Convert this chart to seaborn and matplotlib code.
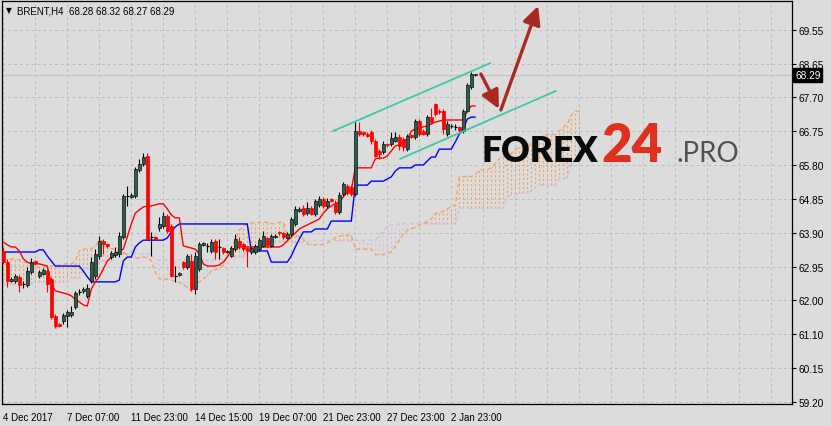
import numpy as np
import matplotlib
matplotlib.use("Agg")
import matplotlib.pyplot as plt
import seaborn as sns
from matplotlib.transforms import blended_transform_factory

# ---------------- data ----------------
open_ = [63.40, 63.09, 62.56, 62.56, 62.68, 62.48, 62.45, 62.81, 63.12, 62.70,
         62.76, 62.84, 62.62, 61.59, 61.37, 61.45, 61.59, 61.62, 61.84, 62.26,
         62.29, 62.15, 62.56, 62.70, 63.26, 63.68, 63.59, 63.23, 63.29, 63.32,
         63.79, 64.93, 64.90, 64.93, 65.65, 65.82, 66.04, 63.79, 63.79, 64.04,
         64.09, 64.37, 64.09, 62.70, 62.73, 63.09, 62.95, 63.12, 62.34, 62.90,
         63.57, 63.54, 63.40, 63.68, 63.51, 63.48, 63.37, 63.26, 63.45, 63.68,
         63.59, 63.48, 63.37, 63.37, 63.45, 63.54, 63.76, 63.54, 63.79, 63.93,
         63.90, 63.76, 63.87, 64.15, 64.51, 64.59, 64.45, 64.59, 64.43, 64.68,
         64.84, 64.65, 64.84, 64.73, 64.48, 64.98, 65.20, 65.18, 64.98, 66.73,
         66.71, 66.65, 66.71, 66.46, 66.18, 66.15, 66.37, 66.37, 66.46, 66.57,
         66.51, 66.23, 66.62, 66.57, 67.01, 66.73, 66.65, 67.12, 67.49, 67.29,
         67.29, 66.65, 66.87, 66.85, 66.85, 66.73, 67.29, 67.96, 68.28]
high = [63.51, 63.18, 62.68, 62.76, 62.73, 62.56, 62.95, 63.20, 63.15, 62.87,
        62.93, 62.90, 62.68, 61.65, 61.40, 61.67, 61.76, 61.87, 62.29, 62.34,
        62.40, 62.48, 63.23, 63.45, 63.82, 63.73, 63.62, 63.40, 63.51, 63.93,
        64.98, 65.20, 65.01, 65.73, 65.96, 66.12, 66.12, 63.93, 63.82, 64.34,
        64.48, 64.43, 64.15, 62.98, 62.81, 63.12, 63.32, 63.32, 63.37, 63.65,
        63.65, 63.62, 63.73, 63.73, 63.73, 63.51, 63.43, 63.54, 63.87, 63.79,
        63.62, 63.51, 63.51, 63.59, 63.76, 63.95, 63.79, 63.87, 63.87, 63.95,
        63.93, 63.93, 64.34, 64.65, 64.62, 64.68, 64.76, 64.65, 64.84, 64.93,
        64.90, 64.87, 64.87, 64.82, 65.04, 65.32, 65.26, 65.23, 66.98, 66.98,
        66.73, 66.71, 66.76, 66.51, 66.23, 66.46, 66.40, 66.71, 66.71, 66.65,
        66.57, 66.65, 66.65, 67.07, 67.07, 66.79, 67.18, 67.37, 67.51, 67.35,
        67.35, 67.01, 66.93, 66.93, 66.87, 67.35, 68.07, 68.37, 68.32]
low = [63.04, 62.40, 62.54, 62.51, 62.26, 62.37, 62.40, 62.76, 63.01, 62.65,
       62.73, 62.26, 61.51, 61.26, 61.29, 61.37, 61.29, 61.56, 61.79, 62.18,
       62.23, 62.09, 62.51, 62.62, 63.18, 63.32, 63.48, 63.18, 63.23, 63.23,
       63.73, 64.65, 64.87, 64.87, 65.59, 65.76, 63.70, 63.26, 63.70, 63.95,
       64.04, 63.90, 62.68, 62.54, 62.70, 62.90, 62.90, 62.29, 62.20, 62.84,
       63.54, 63.37, 63.34, 63.18, 63.18, 63.32, 63.34, 63.23, 63.40, 63.45,
       63.40, 62.95, 63.32, 63.32, 63.40, 63.51, 63.51, 63.51, 63.76, 63.84,
       63.73, 63.73, 63.82, 64.09, 64.48, 64.37, 64.40, 64.40, 64.37, 64.62,
       64.59, 64.59, 64.76, 64.43, 64.43, 64.93, 64.95, 64.93, 64.93, 66.59,
       66.59, 66.57, 66.37, 66.01, 65.96, 66.09, 66.29, 66.32, 66.43, 66.21,
       66.18, 66.18, 66.54, 66.51, 66.59, 66.62, 66.59, 66.93, 67.15, 67.21,
       66.65, 66.59, 66.82, 66.76, 66.71, 66.68, 67.26, 67.90, 68.27]
close_ = [63.09, 62.56, 62.62, 62.70, 62.45, 62.48, 62.84, 63.09, 63.07, 62.81,
          62.87, 62.48, 61.56, 61.31, 61.31, 61.62, 61.70, 61.70, 62.23, 62.26,
          62.34, 62.37, 63.09, 63.32, 63.68, 63.59, 63.54, 63.34, 63.37, 63.82,
          64.93, 64.93, 64.95, 65.68, 65.82, 66.01, 63.73, 63.79, 63.73, 64.15,
          64.37, 63.95, 62.70, 62.70, 62.79, 62.95, 63.26, 62.34, 63.26, 63.59,
          63.62, 63.54, 63.65, 63.37, 63.51, 63.37, 63.40, 63.48, 63.73, 63.54,
          63.45, 63.40, 63.48, 63.54, 63.70, 63.82, 63.57, 63.82, 63.82, 63.90,
          63.79, 63.87, 64.29, 64.57, 64.57, 64.43, 64.59, 64.43, 64.79, 64.84,
          64.65, 64.79, 64.79, 64.48, 64.95, 65.26, 65.01, 64.98, 66.73, 66.65,
          66.65, 66.59, 66.46, 66.04, 66.09, 66.37, 66.35, 66.54, 66.57, 66.32,
          66.29, 66.59, 66.57, 67.01, 66.65, 66.65, 67.12, 66.98, 67.21, 67.26,
          66.79, 66.93, 66.87, 66.85, 66.76, 67.29, 68.01, 68.32, 68.29]

tenkan = [63.65, 63.57, 63.51, 63.51, 63.40, 63.18, 63.09, 63.04, 63.04, 63.04,
          63.01, 62.98, 62.48, 62.29, 62.26, 62.23, 62.20, 62.15, 62.06, 61.98,
          61.90, 61.87, 62.34, 62.54, 62.68, 62.90, 63.12, 63.23, 63.29, 63.40,
          63.45, 63.79, 64.15, 64.45, 64.54, 64.62, 64.65, 64.65, 64.68, 64.71,
          64.71, 64.57, 64.40, 64.32, 64.32, 63.54, 63.51, 63.48, 63.45, 63.32,
          63.04, 62.98, 62.98, 62.98, 63.01, 63.09, 63.23, 63.40, 63.48, 63.51,
          63.51, 63.51, 63.51, 63.51, 63.51, 63.51, 63.51, 63.51, 63.51, 63.51,
          63.57, 63.68, 63.79, 63.90, 64.01, 64.07, 64.12, 64.18, 64.23, 64.29,
          64.45, 64.57, 64.65, 64.71, 64.76, 64.90, 65.04, 65.09, 65.71, 65.71,
          65.71, 65.71, 65.71, 65.96, 65.98, 65.98, 66.04, 66.18, 66.32, 66.35,
          66.43, 66.51, 66.73, 66.79, 66.82, 66.85, 66.87, 66.93, 66.98, 67.01,
          67.04, 67.04, 67.04, 67.04, 67.04, 67.04, 67.29, 67.43, 67.43]
kijun = [63.37, 63.37, 63.37, 63.37, 63.37, 63.37, 63.37, 63.37, 63.37, 63.43,
         63.43, 63.26, 63.12, 62.98, 62.98, 62.98, 62.98, 62.98, 62.98, 62.98,
         62.84, 62.68, 62.54, 62.54, 62.54, 62.54, 62.54, 62.54, 62.54, 62.59,
         63.12, 63.23, 63.23, 63.51, 63.62, 63.70, 63.70, 63.70, 63.70, 63.70,
         63.70, 63.76, 63.93, 64.07, 64.15, 64.15, 64.15, 64.15, 64.15, 64.15,
         64.15, 64.15, 64.15, 64.15, 64.15, 64.15, 64.15, 64.15, 64.15, 64.15,
         64.15, 64.15, 63.40, 63.40, 63.40, 63.40, 63.40, 63.09, 63.09, 63.09,
         63.09, 63.09, 63.26, 63.51, 63.73, 63.93, 63.93, 63.93, 64.01, 64.01,
         64.01, 64.01, 64.23, 64.23, 64.23, 64.23, 64.23, 64.23, 65.23, 65.23,
         65.23, 65.23, 65.34, 65.34, 65.34, 65.34, 65.40, 65.46, 65.62, 65.71,
         65.71, 65.71, 65.71, 65.79, 65.79, 65.79, 65.90, 66.01, 66.01, 66.23,
         66.23, 66.23, 66.23, 66.43, 66.65, 66.79, 67.07, 67.12, 67.12]
span_a = [63.15, 63.15, 63.18, 63.18, 63.15, 63.09, 63.07, 63.01, 62.95, 62.95,
          62.95, 62.98, 62.98, 63.01, 63.01, 63.04, 63.04, 63.04, 63.12, 63.40,
          63.45, 63.45, 63.45, 63.54, 63.68, 63.68, 63.51, 63.47, 63.44, 63.44,
          63.38, 63.27, 63.23, 63.20, 63.20, 63.23, 63.22, 63.12, 62.80, 62.63,
          62.62, 62.61, 62.59, 62.56, 62.52, 62.48, 62.37, 62.27, 62.44, 62.54,
          62.61, 62.72, 62.83, 62.88, 62.91, 63.00, 63.29, 63.51, 63.69, 63.98,
          64.08, 64.16, 64.18, 64.18, 64.19, 64.20, 64.20, 64.16, 64.16, 64.19,
          64.20, 63.84, 63.83, 63.82, 63.80, 63.73, 63.59, 63.57, 63.57, 63.57,
          63.58, 63.62, 63.69, 63.77, 63.82, 63.83, 63.83, 63.83, 63.45, 63.45,
          63.45, 63.45, 63.45, 63.30, 63.30, 63.30, 63.33, 63.38, 63.52, 63.70,
          63.87, 63.97, 64.02, 64.05, 64.12, 64.15, 64.23, 64.29, 64.44, 64.47,
          64.50, 64.57, 64.64, 64.66, 65.47, 65.47, 65.47, 65.47, 65.52, 65.65,
          65.66, 65.66, 65.72, 65.82, 65.97, 66.03, 66.07, 66.11, 66.22, 66.29,
          66.30, 66.32, 66.39, 66.47, 66.50, 66.62, 66.64, 66.64, 66.64, 66.73,
          66.84, 66.91, 67.18, 67.28, 67.28]
span_b = [62.48, 62.48, 62.48, 62.48, 62.48, 62.48, 62.48, 62.48, 62.54, 62.54,
          62.54, 62.54, 62.54, 62.54, 62.54, 62.54, 62.54, 62.65, 62.65, 62.65,
          62.90, 62.90, 62.90, 62.90, 63.12, 63.12, 63.12, 63.12, 63.32, 63.32,
          63.32, 63.32, 63.32, 63.32, 63.32, 63.32, 63.32, 63.32, 63.15, 63.15,
          63.15, 63.15, 63.15, 63.15, 63.15, 63.15, 63.15, 63.15, 63.15, 63.15,
          63.15, 63.15, 63.15, 63.15, 63.15, 63.15, 63.23, 63.23, 63.23, 63.23,
          63.23, 63.51, 63.51, 63.51, 63.51, 63.51, 63.51, 63.65, 63.65, 63.65,
          63.65, 63.65, 63.65, 63.65, 63.65, 63.65, 63.65, 63.69, 63.69, 63.69,
          63.69, 63.69, 63.69, 63.69, 63.69, 63.69, 63.69, 63.69, 63.69, 63.69,
          63.69, 63.70, 63.70, 63.70, 63.84, 63.95, 64.11, 64.11, 64.11, 64.16,
          64.16, 64.16, 64.16, 64.16, 64.16, 64.16, 64.16, 64.16, 64.16, 64.16,
          64.16, 64.16, 64.16, 64.16, 64.59, 64.59, 64.59, 64.59, 64.59, 64.59,
          64.59, 64.59, 64.59, 64.59, 64.59, 64.59, 64.91, 64.97, 64.97, 65.01,
          65.01, 65.01, 65.07, 65.16, 65.23, 65.23, 65.23, 65.23, 65.23, 65.41,
          65.41, 65.45, 65.79, 65.94, 65.94]

date_labels = ['4 Dec 2017', '7 Dec 07:00', '11 Dec 23:00', '14 Dec 15:00',
               '19 Dec 07:00', '21 Dec 23:00', '27 Dec 23:00', '2 Jan 23:00']
price_labels = ['59.20', '60.15', '61.10', '62.00', '62.95', '63.90',
                '64.85', '65.80', '66.75', '67.70', '68.65', '69.55']
last_price = 68.29
title_text = 'BRENT,H4  68.28 68.32 68.27 68.29'

# drawn channel lines and arrows (bar index, price)
channel_upper = ([82.4, 121.7], [66.73, 68.62])
channel_lower = ([99.2, 138.2], [65.96, 67.85])
arrow_down = ((119.4, 68.32), (123.9, 67.35))
arrow_up = ((124.4, 67.32), (133.7, 70.21))

# ---------------- style ----------------
sns.set_style("white")
plt.rcParams['font.family'] = ['Liberation Sans', 'DejaVu Sans']

BG = '#DCDCDC'
GRID = '#BDBDBD'
BULL = '#2E5E4C'
BEAR = '#FF0000'

fig = plt.figure(figsize=(8.31, 4.27), dpi=100, facecolor=BG)
ax = fig.add_axes([2 / 831, 22 / 427, 790 / 831, 403 / 427])
ax.set_facecolor(BG)

n = len(open_)
x = np.arange(n)
o = np.array(open_); c = np.array(close_); h = np.array(high); l = np.array(low)
sa = np.array(span_a); sb = np.array(span_b)
xc = np.arange(len(sa))

# Ichimoku cloud hatch
hatch_cols = np.where(sa >= sb, '#F4A460', '#D8BFD8')
ax.vlines(xc, np.minimum(sa, sb), np.maximum(sa, sb), colors=hatch_cols,
          linestyles=[(0, (2, 2))], linewidth=0.8, zorder=1)
sns.lineplot(x=xc, y=sb, ax=ax, color='#D8BFD8', linewidth=1.0,
             linestyle=(0, (3, 2)), zorder=2)
sns.lineplot(x=xc, y=sa, ax=ax, color='#F4A460', linewidth=1.0,
             linestyle=(0, (3, 2)), zorder=2)

# current price line
ax.axhline(last_price, color='#C4C4C4', linewidth=0.9, zorder=0.5)

# Tenkan / Kijun
sns.lineplot(x=x, y=np.array(kijun), ax=ax, color='#0000FF', linewidth=1.0, zorder=3)
sns.lineplot(x=x, y=np.array(tenkan), ax=ax, color='#FF0000', linewidth=1.0, zorder=3)

# candles
up = c > o
dn = c < o
dj = c == o
wick_cols = np.where(dn, BEAR, '#000000')
ax.vlines(x, l, h, colors=wick_cols, linewidth=0.8, zorder=4)
bottom = np.minimum(o, c)
height = np.maximum(np.abs(c - o), 0.03)
ax.bar(x[up], height[up], bottom=bottom[up], width=0.72, color=BULL,
       edgecolor='#101010', linewidth=0.5, zorder=5)
ax.bar(x[dn], height[dn], bottom=bottom[dn], width=0.72, color=BEAR,
       edgecolor=BEAR, linewidth=0.5, zorder=5)
ax.hlines(o[dj], x[dj] - 0.45, x[dj] + 0.45, colors='#000000', linewidth=0.9, zorder=5)

# channel lines
ax.plot(channel_upper[0], channel_upper[1], color='#3CC8AA', linewidth=1.3, zorder=6)
ax.plot(channel_lower[0], channel_lower[1], color='#3CC8AA', linewidth=1.3, zorder=6)

# arrows
arrow_style = '-|>,head_length=0.55,head_width=0.27'
for tail, tip in (arrow_down, arrow_up):
    ax.annotate('', xy=tip, xytext=tail,
                arrowprops=dict(arrowstyle=arrow_style, color='#AA2A22', lw=2.4,
                                mutation_scale=20, shrinkA=0, shrinkB=0),
                zorder=7)

# axes limits & ticks
ax.set_xlim(-0.325, 197.175)
ax.set_ylim(59.145, 70.348)
yt = [59.20 + k * (69.55 - 59.20) / 11 for k in range(12)]
ax.set_yticks(yt)
ax.set_yticklabels(price_labels)
ax.yaxis.tick_right()
ax.set_xticks(np.arange(0, 16 * len(date_labels), 16))
ax.set_xticklabels(date_labels, ha='left')
ax.set_xticks(np.arange(8, 197, 8), minor=True)
ax.grid(which='both', color=GRID, linestyle=(0, (3, 3)), linewidth=0.7)
ax.set_axisbelow(True)
ax.tick_params(which='minor', length=0)
ax.tick_params(axis='x', which='major', length=4, width=0.8, direction='out',
               pad=1.5, labelsize=7.0, colors='black')
ax.tick_params(axis='y', which='major', length=3, width=0.8, direction='out',
               pad=2, labelsize=7.3, colors='black', right=True, left=False)
for s in ax.spines.values():
    s.set_color('black')
    s.set_linewidth(0.9)
ax.set_xlabel('')
ax.set_ylabel('')

# last price box
tr = blended_transform_factory(ax.transAxes, ax.transData)
ax.text(1.0 + 3 / 790, last_price, f'{last_price:.2f}', transform=tr,
        color='white', fontsize=7.3, va='center', ha='left', zorder=10,
        bbox=dict(boxstyle='square,pad=0.2', fc='black', ec='black'))

# header
fig.text(6 / 831, 1 - 11 / 427, '\u25BC', fontsize=5.5, va='center', ha='left',
         family='DejaVu Sans', color='black')
fig.text(17 / 831, 1 - 11 / 427, title_text, fontsize=7.0, va='center', ha='left',
         color='black')

# watermark logo
fig.text(482 / 831, 1 - 162 / 427, 'FOREX', fontsize=25.5, fontweight='heavy',
         family=['Lato', 'DejaVu Sans'], color='#0A0A0A', va='baseline', ha='left')
fig.text(601 / 831, 1 - 162 / 427, '24', fontsize=38, fontweight='heavy',
         family=['Lato', 'DejaVu Sans'], color='#E0301E', va='baseline', ha='left')
fig.text(676 / 831, 1 - 162 / 427, '.PRO', fontsize=20, fontweight='normal',
         family=['Lato', 'DejaVu Sans'], color='#505050', va='baseline', ha='left')

fig.savefig('out.png', dpi=100, facecolor=BG)
